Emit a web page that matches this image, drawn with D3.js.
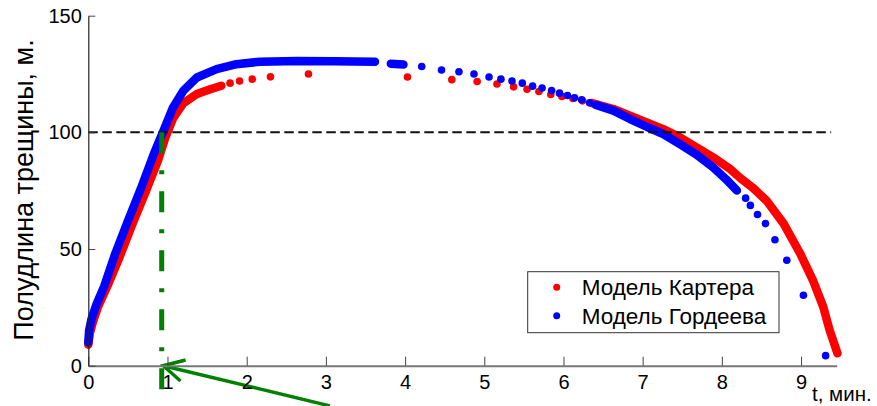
<!DOCTYPE html>
<html>
<head>
<meta charset="utf-8">
<script src="https://cdn.jsdelivr.net/npm/d3@7"></script>
<style>
  body { margin: 0; background: #fff; }
  text { font-family: "Liberation Sans", Arial, sans-serif; fill: #000; }
</style>
</head>
<body>
<svg id="chart" width="877" height="406"></svg>
<script>
"use strict";

// Tick labels
const xTicks = [0, 1, 2, 3, 4, 5, 6, 7, 8, 9];
const yTicks = [0, 50, 100, 150];

// Модель Картера (red): dense parts drawn as a thick band, sparse parts as dots
const carterDense1 = [[0.0, 9], [0.02, 14], [0.06, 19], [0.12, 25], [0.24, 34], [0.4, 47], [0.56, 61],
  [0.73, 75], [0.88, 88], [0.97, 97.5], [1.07, 106], [1.2, 112.5], [1.37, 116.4], [1.54, 118.5], [1.68, 120]];
const carterSparse = [[1.79, 121.1], [1.91, 122], [2.07, 122.8], [2.30, 123.8], [2.78, 125], [4.03, 123.7],
  [4.59, 122.6], [4.91, 121.8], [5.16, 120.7], [5.37, 119.5], [5.54, 118.5], [5.69, 117.5], [5.84, 116.2],
  [5.98, 115.4], [6.12, 114.5], [6.24, 113.5]];
const carterDense2 = [[6.35, 112.6], [6.63, 110], [6.84, 107.1], [7.05, 104.3], [7.26, 101.4], [7.47, 97.9],
  [7.68, 93.6], [7.89, 89.3], [8.10, 84.4], [8.23, 80.5], [8.40, 76], [8.57, 70.5], [8.78, 60.9], [8.99, 48],
  [9.15, 36.6], [9.28, 25.2], [9.36, 15.3], [9.46, 5.3]];

// Модель Гордеева (blue)
const gordeevDense1 = [[0.0, 10], [0.01, 15], [0.04, 20], [0.1, 26], [0.2, 34], [0.34, 48], [0.5, 62],
  [0.67, 76.5], [0.83, 91], [0.95, 100.7], [1.07, 110.7], [1.2, 117.8], [1.37, 123.5], [1.62, 127.1],
  [1.87, 129.2], [2.17, 130.3], [2.63, 130.6], [3.1, 130.5], [3.62, 130.3]];
const gordeevDense2 = [[3.82, 129.4], [3.98, 129.1]];
const gordeevSparse = [[4.21, 128.2], [4.46, 126.7], [4.68, 126], [4.87, 125], [5.06, 123.7], [5.21, 122.8],
  [5.35, 122], [5.48, 121.1], [5.61, 119.8], [5.73, 119], [5.85, 117.9], [5.95, 116.8], [6.05, 115.8],
  [6.14, 114.8], [6.23, 114], [6.33, 112.7]];
const gordeevDense3 = [[6.41, 111.7], [6.63, 109.3], [6.84, 105.7], [7.05, 102.4], [7.26, 99.3], [7.47, 95],
  [7.68, 90.5], [7.89, 85], [8.05, 80], [8.19, 75.1]];
const gordeevSparse2 = [[8.30, 71.8], [8.36, 68.7], [8.45, 64.8], [8.55, 60.9], [8.67, 54], [8.82, 45.2],
  [9.03, 30.2], [9.31, 4.3]];

// Reference lines and annotation (data units)
const levelLine = [[0, 100], [9.38, 100]];
const timeLine = [[0.927, 100], [0.927, -20]];
const arrowTip = [0.947, 0];
const arrowTail = [3.05, -17.2];

const legendLabels = ["Модель Картера", "Модель Гордеева"];
const colors = ["#ff0000", "#0000ff"];

const svg = d3.select("#chart");
const x = d3.scaleLinear().domain([0, 9.45]).range([88.3, 836.7]);
const y = d3.scaleLinear().domain([0, 150]).range([365.7, 15.7]);
const line = d3.line().x(d => x(d[0])).y(d => y(d[1]));

function band(pts, color) {
  svg.append("path").attr("d", line(pts))
    .attr("fill", "none").attr("stroke", color)
    .attr("stroke-width", 8.5).attr("stroke-linecap", "round").attr("stroke-linejoin", "round");
}
function dots(pts, color) {
  svg.append("g").selectAll("circle").data(pts).join("circle")
    .attr("cx", d => x(d[0])).attr("cy", d => y(d[1])).attr("r", 3.8).attr("fill", color);
}

band(carterDense1, colors[0]);
band(carterDense2, colors[0]);
dots(carterSparse, colors[0]);
band(gordeevDense1, colors[1]);
band(gordeevDense2, colors[1]);
dots(gordeevSparse, colors[1]);
band(gordeevDense3, colors[1]);
dots(gordeevSparse2, colors[1]);

// dashed level at 100 m
svg.append("path").attr("d", line(levelLine))
  .attr("stroke", "#111").attr("stroke-width", 2).attr("stroke-dasharray", "9.5,4.5").attr("fill", "none");

// green dash-dot time marker
svg.append("path").attr("d", line(timeLine))
  .attr("stroke", "#008000").attr("stroke-width", 5).attr("stroke-dasharray", "21,17,4,17").attr("fill", "none");

// arrow
const tip = [x(arrowTip[0]), y(arrowTip[1])];
const tail = [x(arrowTail[0]), y(arrowTail[1])];
const ang = Math.atan2(tail[1] - tip[1], tail[0] - tip[0]);
const headLen = 23, headAng = 28 * Math.PI / 180;
const arm = a => [tip[0] + headLen * Math.cos(ang + a), tip[1] + headLen * Math.sin(ang + a)];
svg.append("path")
  .attr("d", d3.line()([tail, tip]))
  .attr("stroke", "#008000").attr("stroke-width", 3.5).attr("fill", "none");
svg.append("path")
  .attr("d", d3.line()([arm(-headAng), tip, arm(headAng)]))
  .attr("stroke", "#008000").attr("stroke-width", 3.5).attr("fill", "none")
  .attr("stroke-linejoin", "miter");

// axes
const xAxis = svg.append("g").attr("transform", `translate(0,${y(0)})`)
  .call(d3.axisBottom(x).tickValues(xTicks).tickSizeInner(-9).tickSizeOuter(0).tickPadding(9));
const yAxis = svg.append("g").attr("transform", `translate(${x(0)},0)`)
  .call(d3.axisLeft(y).tickValues(yTicks).tickSizeInner(-7).tickSizeOuter(0).tickPadding(6.5));
xAxis.select(".domain").attr("stroke", "#777").attr("stroke-width", 2);
yAxis.select(".domain").attr("stroke", "#222").attr("stroke-width", 1.2);
xAxis.selectAll(".tick line").attr("stroke", "#444");
yAxis.selectAll(".tick line").attr("stroke", "#444");
svg.selectAll(".tick text").attr("font-size", 20).attr("font-family", "Liberation Sans, Arial, sans-serif").attr("fill", "#000");

// axis titles
svg.append("text")
  .attr("transform", "translate(33,190) rotate(-90)")
  .attr("text-anchor", "middle").attr("font-size", 27)
  .text("Полудлина трещины, м.");
svg.append("text").attr("x", 812).attr("y", 401).attr("font-size", 20.5).text("t, мин.");

// legend
const lg = svg.append("g");
lg.append("rect").attr("x", 527.7).attr("y", 271.7).attr("width", 251.3).attr("height", 61)
  .attr("fill", "#fff").attr("stroke", "#333").attr("stroke-width", 1);
legendLabels.forEach((name, i) => {
  const cy = 287.3 + i * 28.4;
  lg.append("circle").attr("cx", 556.7).attr("cy", cy).attr("r", 3.5).attr("fill", colors[i]);
  lg.append("text").attr("x", 581.7).attr("y", cy).attr("dy", "0.36em")
    .attr("font-size", 22.5).text(name);
});
</script>
</body>
</html>
